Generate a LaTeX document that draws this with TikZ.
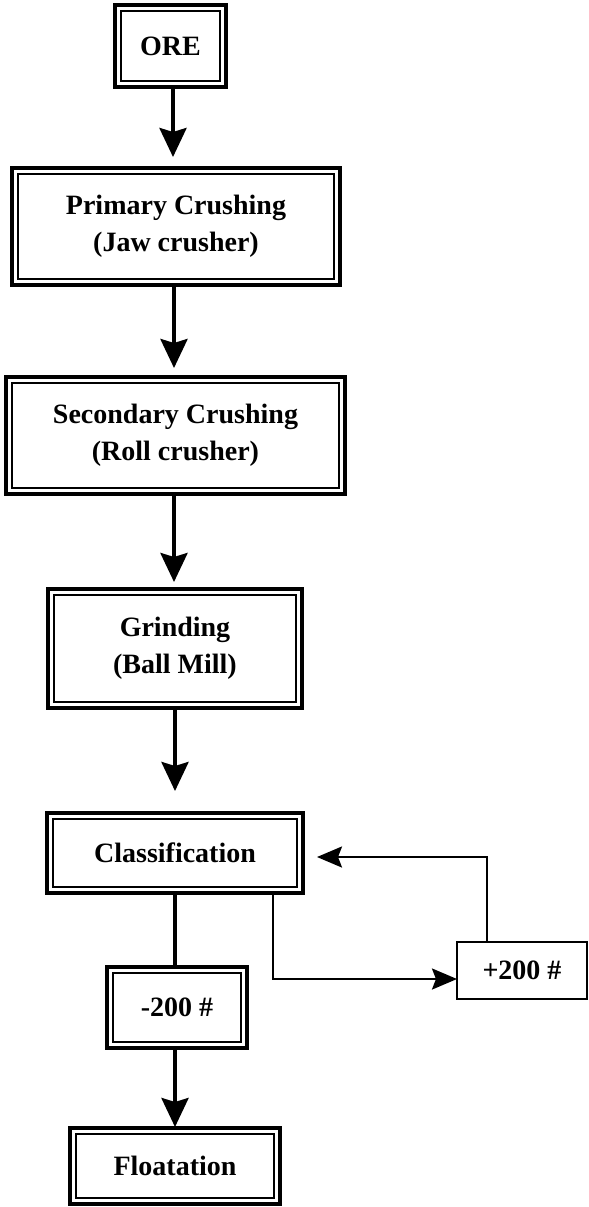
\documentclass[tikz,border=0pt]{standalone}
\usepackage{fontspec}
\setmainfont{Liberation Serif}
\usetikzlibrary{arrows.meta}
\begin{document}
\begin{tikzpicture}[x=0.5pt,y=-0.5pt,
  box/.style={draw, line width=1.8pt, outer sep=0pt, inner sep=0pt, align=center,
    font=\fontsize{14}{18.5}\selectfont\bfseries},
  sbox/.style={draw, line width=1.2pt, outer sep=0pt, inner sep=0pt, align=center,
    font=\fontsize{14}{18.5}\selectfont\bfseries},
  flow/.style={line width=2pt, -{Stealth[length=14.5pt,width=13.5pt,inset=2pt]}},
  thinhead/.style={-{Stealth[length=12.5pt,width=10.5pt,inset=2pt]}},
  link/.style={line width=1.2pt}
]
\useasboundingbox (0,0) rectangle (589,1207);
\node[box, minimum width=55.5pt, minimum height=41pt] (ore) at (170.5,46) {ORE};
\node[box, minimum width=164pt, minimum height=58.5pt] (prim) at (176,226.5) {Primary Crushing\\(Jaw crusher)};
\node[box, minimum width=169.5pt, minimum height=58.5pt] (sec) at (175.5,435.5) {Secondary Crushing\\(Roll crusher)};
\node[box, minimum width=127pt, minimum height=59.5pt] (grind) at (175,648.5) {Grinding\\(Ball Mill)};
\node[box, minimum width=128pt, minimum height=40pt] (class) at (175,853) {Classification};
\node[box, minimum width=70pt, minimum height=40.5pt] (minus) at (177,1007.5) {-200 \#};
\node[sbox, minimum width=65pt, minimum height=28.5pt] (plus) at (522,970.5) {+200 \#};
\node[box, minimum width=105pt, minimum height=38pt] (flot) at (175,1166) {Floatation};
\foreach \n in {ore,prim,sec,grind,class,minus,flot}
  \draw[line width=0.8pt] ([shift={(3pt,-3pt)}]\n.north west) rectangle ([shift={(-3pt,3pt)}]\n.south east);
\coordinate (x1) at (173,0);
\coordinate (x2) at (174,0);
\coordinate (x3) at (175,0);
\draw[flow, shorten >=5.5pt] (ore.south -| x1) -- (prim.north -| x1);
\draw[flow, shorten >=4.5pt] (prim.south -| x2) -- (sec.north -| x2);
\draw[flow, shorten >=3.5pt] (sec.south -| x2) -- (grind.north -| x2);
\draw[flow, shorten >=11pt] (grind.south -| x3) -- (class.north -| x3);
\draw[flow, shorten >=0.5pt] (minus.south -| x3) -- (flot.north -| x3);
\draw[line width=2pt] (class.south -| x3) -- (minus.north -| x3);
\coordinate (split) at (273,979);
\coordinate (turn) at (487,857);
\draw[link, thinhead] (split |- class.south) -- (split) -- (split -| plus.west);
\draw[link, thinhead, shorten >=7pt] (turn |- plus.north) -- (turn) -- (turn -| class.east);
\end{tikzpicture}
\end{document}
